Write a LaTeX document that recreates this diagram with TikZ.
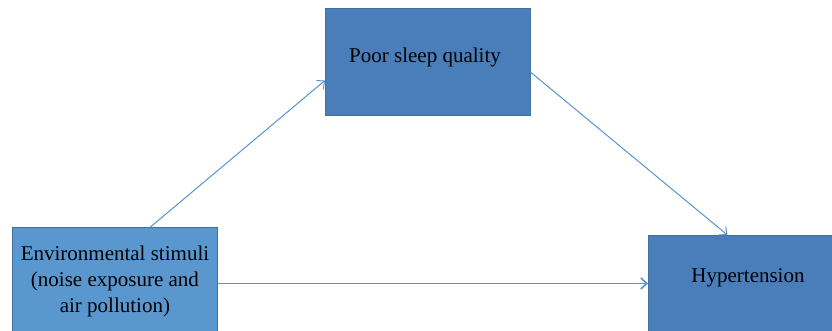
\documentclass[tikz,border=0pt]{standalone}
\usepackage{fontspec}
\setmainfont{Liberation Serif}
\usepackage{xcolor}
\usepackage{tikz}
\usetikzlibrary{calc,arrows.meta}
\definecolor{boxlight}{HTML}{5B97CF}
\definecolor{boxdark}{HTML}{4A7EBB}
\definecolor{edge}{HTML}{41719C}
\definecolor{arrow}{HTML}{5B93CC}
\tikzset{
  boxl/.style={draw=edge, fill=boxlight, line width=0.9pt, inner sep=0pt, anchor=north west},
  boxd/.style={draw=edge, fill=boxdark, line width=0.9pt, inner sep=0pt, anchor=north west},
  lab/.style={text=black, font=\fontsize{21}{26}\selectfont, align=center},
  link/.style={draw=arrow, line width=1pt, -{Straight Barb[length=6pt,width=11pt]}},
}
\begin{document}
\begin{tikzpicture}[x=1pt,y=1pt]
  \useasboundingbox (0,0) rectangle (832,-330);

  \node[boxl,minimum width=205pt,minimum height=108pt,lab] (env) at (12,-227)
    {Environmental stimuli\\(noise exposure and\\air pollution)};
  \node[boxd,minimum width=205pt,minimum height=107pt] (sleep) at (325,-8) {};
  \node[boxd,minimum width=200pt,minimum height=110pt] (hyp) at (648,-235) {};

  \node[lab,anchor=base] (sleeptxt) at (425,-62) {Poor sleep quality};
  \node[lab,anchor=base] (hyptxt) at (748,-282) {Hypertension};

  \draw[link] ([xshift=35.5pt]env.north) -- ([yshift=-18.5pt]sleep.west);
  \draw[link] ([yshift=-10.5pt]sleep.east) -- ([xshift=-21pt]hyp.north);
  \draw[link,line width=1.6pt] ([yshift=-2pt]env.east) -- ([yshift=-2pt]env.east -| hyp.west);
\end{tikzpicture}
\end{document}
